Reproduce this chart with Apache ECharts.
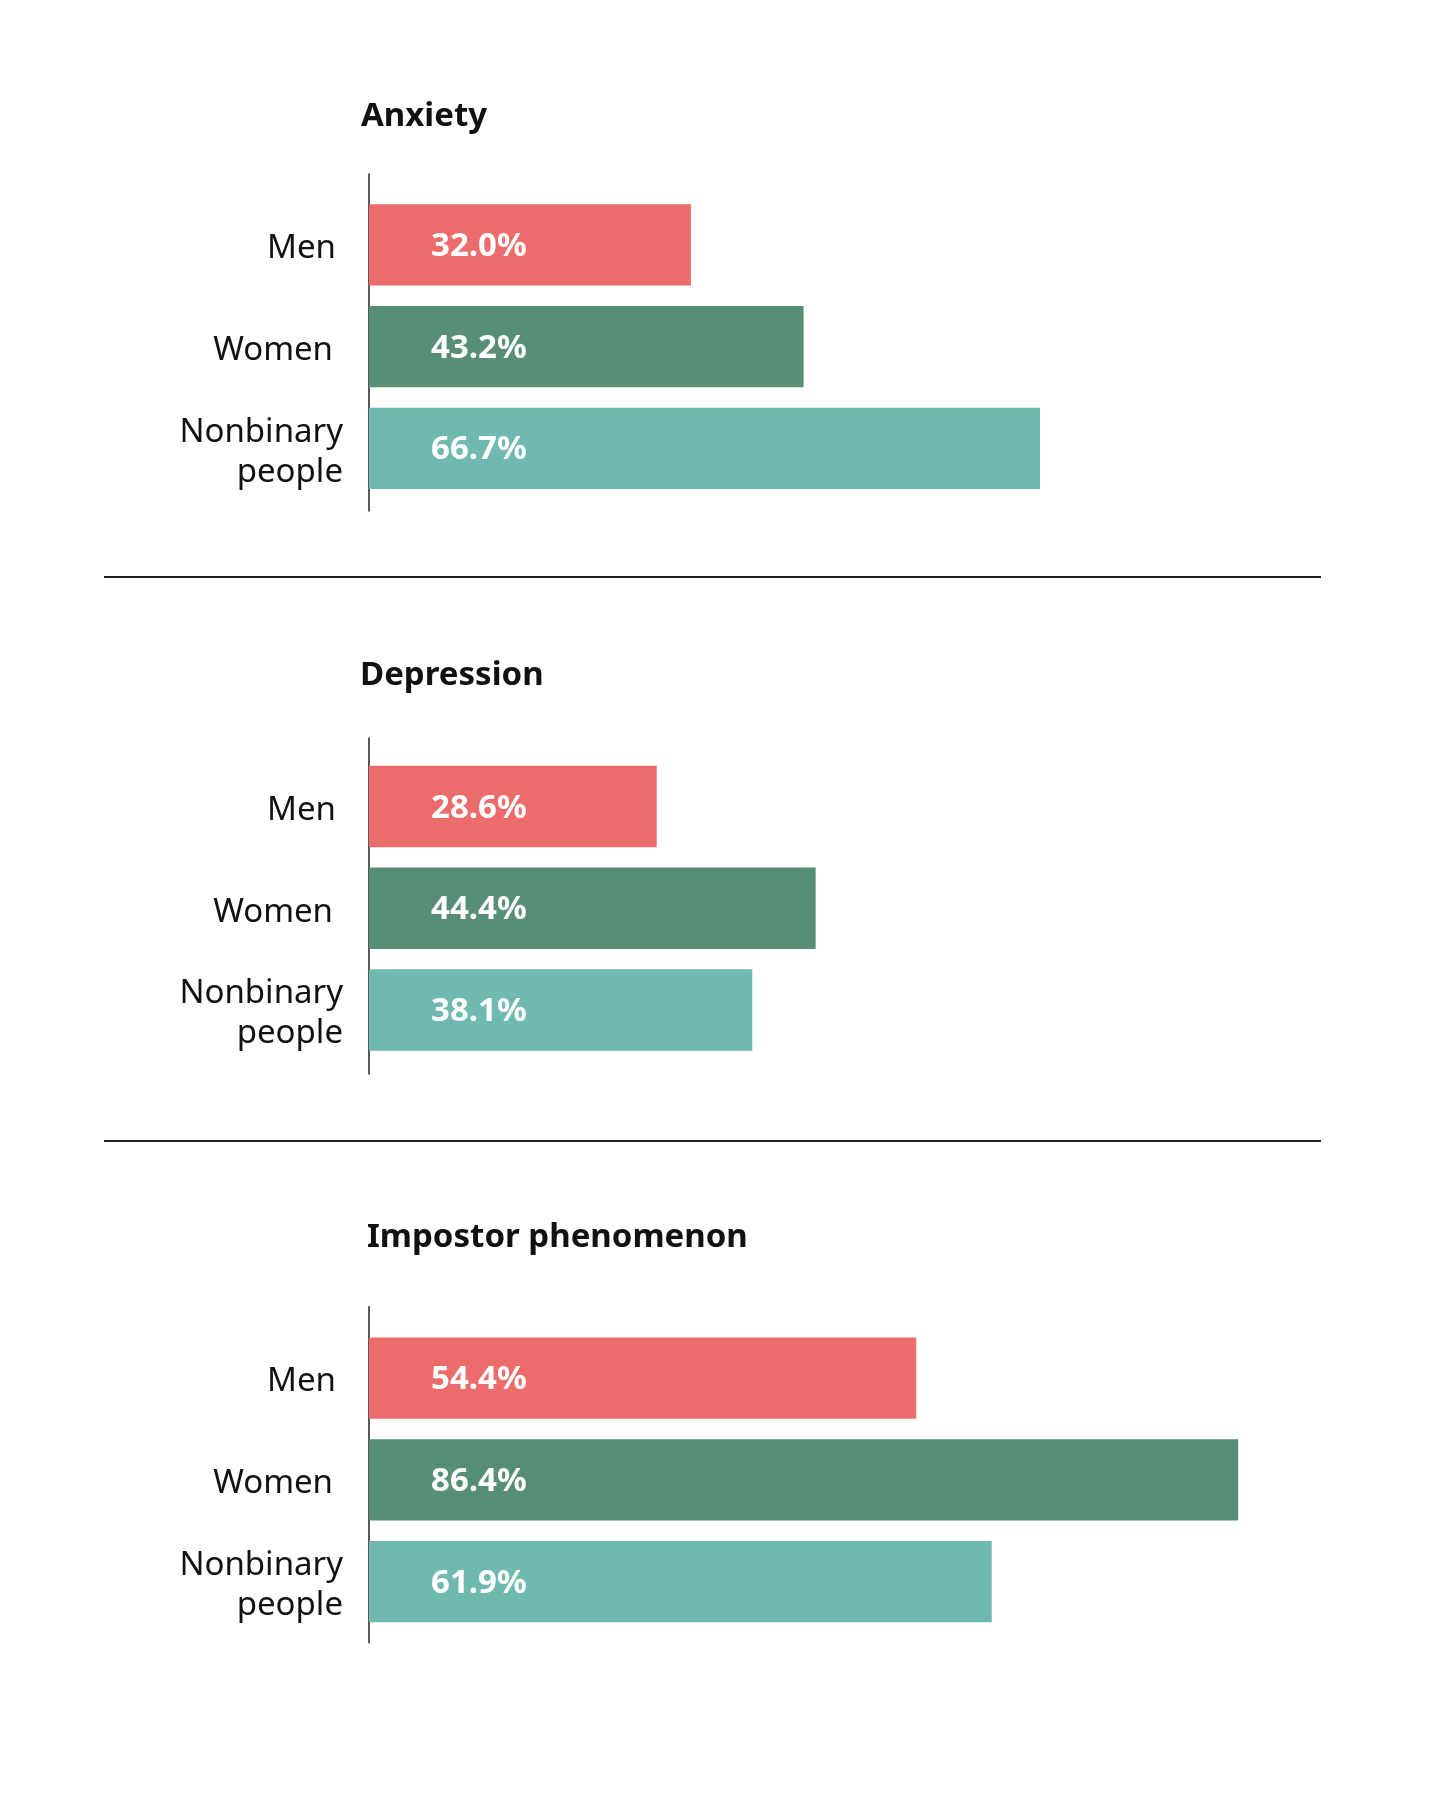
<!DOCTYPE html>
<html>
<head>
<meta charset="utf-8">
<title>Anxiety, depression, impostor phenomenon</title>
<script src="https://cdn.jsdelivr.net/npm/echarts@6/dist/echarts.min.js"></script>
<style>
    html, body { margin: 0; padding: 0; background: #fff; }
    #chart { width: 1452px; height: 1794px; }
</style>
</head>
<body>
<div id="chart"></div>
<script>
// data
var categories = ['Men', 'Women', 'Nonbinary\npeople'];
var panelTitles = ['Anxiety', 'Depression', 'Impostor phenomenon'];
var anxiety = [32.0, 43.2, 66.7];
var depression = [28.6, 44.4, 38.1];
var impostor = [54.4, 86.4, 61.9];
var panelValues = [anxiety, depression, impostor];

var barColors = ['#EB6C6A', '#568F75', '#6FB9B1'];
var font = '"Noto Sans", "Open Sans", sans-serif';

// layout of each panel (px)
var axisLeft = 369;
var plotWidth = 1006;
var barTops = [194, 755.6, 1327.2];
var bandHeight = 305.3;
var labelDrop = 4;           // category labels sit a little below the bar centres
var lineTops = [174, 738, 1306.7];
var lineHeights = [337, 336, 336];
var titleLefts = [361, 360, 367];
var titleTops = [100, 659, 1221];
var labelPad = [7, 10, 0];   // small right shifts of the category labels

var grids = [], xAxes = [], yAxes = [], series = [], titles = [];

for (var i = 0; i < panelValues.length; i++) {
    var g = 3 * i;
    // grid for the bars
    grids.push({ left: axisLeft, width: plotWidth, top: barTops[i], height: bandHeight });
    // grid only used for the taller vertical axis line
    grids.push({ left: axisLeft, width: plotWidth, top: lineTops[i], height: lineHeights[i] });
    // grid for the category labels
    grids.push({ left: axisLeft, width: plotWidth, top: barTops[i] + labelDrop, height: bandHeight });

    for (var k = 0; k < 3; k++) {
        xAxes.push({ type: 'value', gridIndex: g + k, min: 0, max: 100, show: false });
    }

    yAxes.push({
        type: 'category',
        gridIndex: g,
        inverse: true,
        data: categories,
        show: false
    });
    yAxes.push({
        type: 'category',
        gridIndex: g + 1,
        data: [''],
        axisLine: { show: true, lineStyle: { color: '#222', width: 1.5 } },
        axisTick: { show: false },
        axisLabel: { show: false },
        splitLine: { show: false }
    });

    var catData = [];
    for (var c = 0; c < categories.length; c++) {
        catData.push({ value: categories[c], textStyle: { padding: [0, labelPad[c], 0, 0] } });
    }
    yAxes.push({
        type: 'category',
        gridIndex: g + 2,
        inverse: true,
        data: catData,
        axisLine: { show: false },
        axisTick: { show: false },
        splitLine: { show: false },
        axisLabel: {
            color: '#111',
            fontFamily: font,
            fontSize: 33,
            lineHeight: 40,
            margin: 26,
            align: 'right'
        }
    });

    series.push({
        type: 'bar',
        xAxisIndex: g,
        yAxisIndex: g,
        data: panelValues[i],
        barCategoryGap: '20%',
        silent: true,
        itemStyle: {
            color: function (p) {
                return barColors[p.dataIndex % barColors.length];
            }
        },
        label: {
            show: true,
            position: [62, '52%'],
            verticalAlign: 'middle',
            align: 'left',
            color: '#fff',
            fontFamily: font,
            fontWeight: 'bold',
            fontSize: 33,
            formatter: function (p) {
                return p.value.toFixed(1) + '%';
            }
        }
    });

    titles.push({
        text: panelTitles[i],
        left: titleLefts[i],
        top: titleTops[i],
        padding: 0,
        textStyle: { color: '#111', fontFamily: font, fontWeight: 'bold', fontSize: 33 }
    });
}

var chart = echarts.init(document.getElementById('chart'), null, { renderer: 'canvas' });
chart.setOption({
    backgroundColor: '#fff',
    animation: false,
    title: titles,
    grid: grids,
    xAxis: xAxes,
    yAxis: yAxes,
    series: series,
    graphic: [
        // separators between panels
        { type: 'line', shape: { x1: 104, y1: 577, x2: 1321, y2: 577 }, style: { stroke: '#222', lineWidth: 2 } },
        { type: 'line', shape: { x1: 104, y1: 1141, x2: 1321, y2: 1141 }, style: { stroke: '#222', lineWidth: 2 } }
    ]
});
</script>
</body>
</html>
